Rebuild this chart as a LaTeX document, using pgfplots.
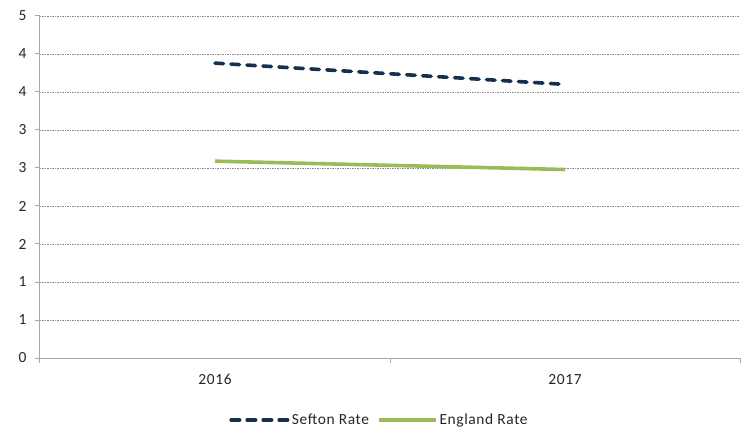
\documentclass[border=0pt]{standalone}
\usepackage{pgfplots}
\pgfplotsset{compat=1.18}
\usepackage{fontspec}
\setmainfont{Carlito}[LetterSpace=4]
\definecolor{sefton}{HTML}{17304F}
\definecolor{england}{HTML}{9BBB59}
\definecolor{axisgray}{HTML}{A6A6A6}
\definecolor{gridgray}{HTML}{8C8C8C}
\begin{document}
\begin{tikzpicture}[x=1bp,y=1bp]
\useasboundingbox (-40bp,-72bp) rectangle (701bp,358bp);
\begin{axis}[
  at={(0,0)}, anchor=origin,
  scale only axis,
  width=700bp, height=342bp,
  xmin=0, xmax=2, ymin=0, ymax=4.5,
  axis lines*=left,
  axis line style={draw=axisgray, line width=1bp},
  xtick={0,1,2},
  x tick label as interval,
  xticklabels={2016,2017},
  ytick={0,0.5,1,1.5,2,2.5,3,3.5,4,4.5},
  yticklabels={0,1,1,2,2,3,3,4,4,5},
  tick style={draw=axisgray, line width=1bp},
  tick align=outside,
  major tick length=5bp,
  ymajorgrids,
  major grid style={draw=gridgray, line width=0.6bp, dash pattern=on 1.5bp off 1bp},
  tick label style={font=\fontsize{15.5}{17}\selectfont, text=black!85},
  /pgf/number format/assume math mode=true,
  yticklabel style={xshift=-5bp},
  xticklabel style={yshift=-8bp},
  legend style={at={(0.485,0)}, anchor=center, yshift=-62bp, draw=none, fill=none,
    font=\fontsize{15.5}{17}\selectfont, text=black!85,
    legend columns=2, /tikz/every even column/.append style={column sep=6bp}},
  legend image code/.code={\draw[#1] (0bp,0bp) -- (57bp,0bp);},
  clip=false,
]
\addplot[sefton, line width=3.6bp, dash pattern=on 8.5bp off 7.5bp, line cap=round] coordinates {(0.5,3.88) (1.5,3.60)};
\addlegendentry{Sefton Rate}
\addplot[england, line width=3.6bp] coordinates {(0.5,2.59) (1.5,2.48)};
\addlegendentry{England Rate}
\end{axis}
\end{tikzpicture}
\end{document}
